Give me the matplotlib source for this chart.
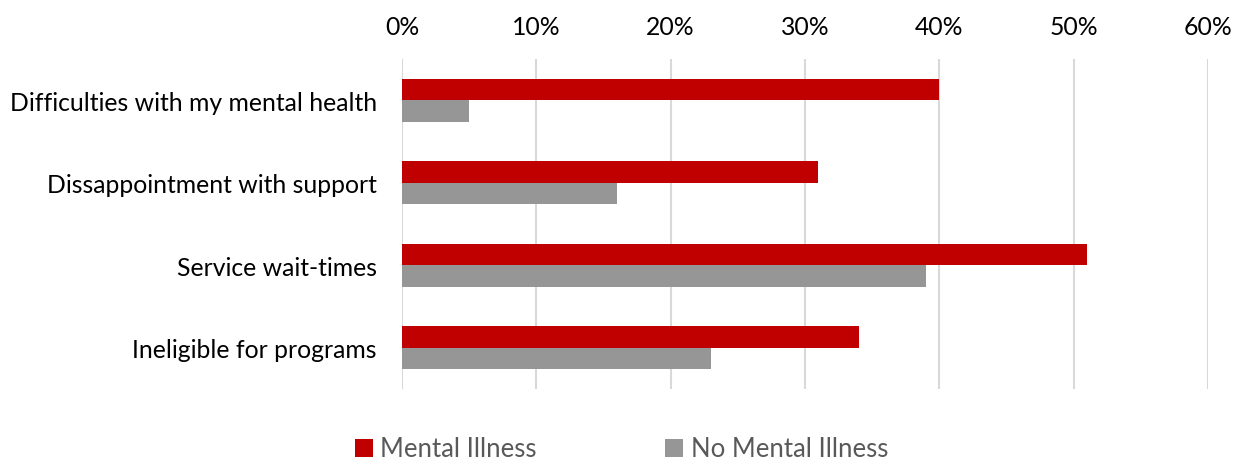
import numpy as np
import matplotlib.pyplot as plt
from matplotlib.ticker import PercentFormatter

categories = ["Difficulties with my mental health", "Dissappointment with support",
              "Service wait-times", "Ineligible for programs"]
mental_illness = [40, 31, 51, 34]
no_mental_illness = [5, 16, 39, 23]
series_names = ["Mental Illness", "No Mental Illness"]
colors = ["#C00000", "#969696"]

plt.rcParams["font.family"] = ["Lato", "DejaVu Sans"]

fig = plt.figure(figsize=(12.43, 4.64), dpi=100)
ax = fig.add_axes([402 / 1243, 1 - 390 / 464, 806 / 1243, 330 / 464])

y = np.arange(len(categories))
h = 0.26
ax.barh(y - h / 2, mental_illness, height=h, color=colors[0], label=series_names[0], zorder=3)
ax.barh(y + h / 2, no_mental_illness, height=h, color=colors[1], label=series_names[1], zorder=3)

ax.set_xlim(0, 60)
ax.set_ylim(3.5, -0.5)
ax.set_xticks(range(0, 61, 10))
ax.xaxis.set_major_formatter(PercentFormatter(decimals=0))
ax.xaxis.tick_top()
ax.set_yticks(y)
ax.set_yticklabels(categories)
ax.tick_params(axis="both", length=0, labelsize=17.8, colors="#000000")
ax.tick_params(axis="x", pad=15)
ax.tick_params(axis="y", pad=18)
ax.grid(axis="x", color="#D9D9D9", linewidth=1.5, zorder=0)
for s in ax.spines.values():
    s.set_visible(False)

fig.legend(loc="center", bbox_to_anchor=(0.5, 1 - 450 / 464), ncol=2, frameon=False,
           fontsize=18.5, labelcolor="#595959", handlelength=0.7, handleheight=0.7,
           handletextpad=0.3, columnspacing=5.0)

fig.savefig("out.png", dpi=100)
